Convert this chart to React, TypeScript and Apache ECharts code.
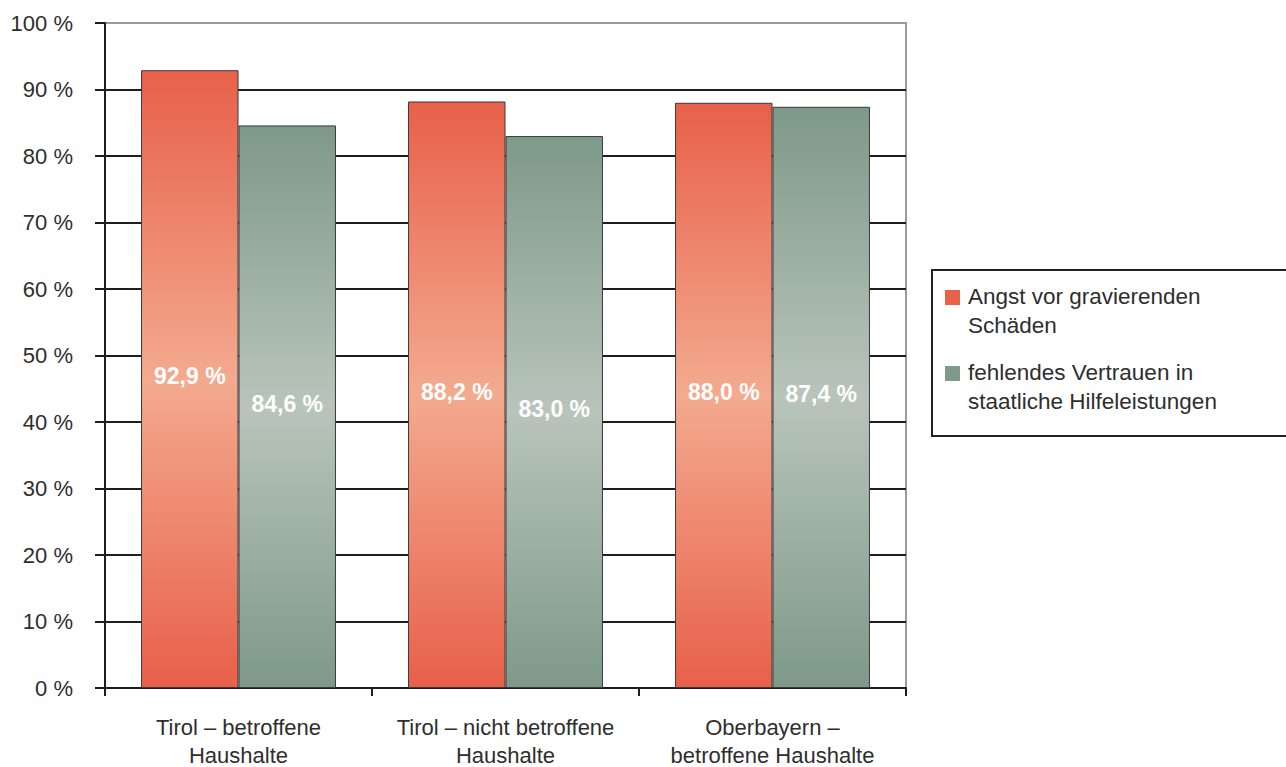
import React, { useEffect, useRef } from "react";
import * as echarts from "echarts";

const categories = [
  "Tirol – betroffene\nHaushalte",
  "Tirol – nicht betroffene\nHaushalte",
  "Oberbayern –\nbetroffene Haushalte",
];
const seriesNames = [
  "Angst vor gravierenden\nSchäden",
  "fehlendes Vertrauen in\nstaatliche Hilfeleistungen",
];
const angstValues = [92.9, 88.2, 88.0];
const vertrauenValues = [84.6, 83.0, 87.4];
const yTicks = { min: 0, max: 100, interval: 10 };

const FONT = "'Liberation Sans', Arial, sans-serif";
const TEXT = "#2e2e2e";
const RED = "#E8624A";
const GREEN = "#7F9A8B";

const vGrad = (edge: string, mid: string) =>
  new echarts.graphic.LinearGradient(0, 0, 0, 1, [
    { offset: 0, color: edge },
    { offset: 0.5, color: mid },
    { offset: 1, color: edge },
  ]);

const fmtPct = (v: number) => v.toFixed(1).replace(".", ",") + " %";

export default function App() {
  const ref = useRef<HTMLDivElement>(null);

  useEffect(() => {
    if (!ref.current) return;
    const chart = echarts.init(ref.current, undefined, { renderer: "svg" });

    const barLabel = {
      show: true,
      position: "inside",
      color: "#ffffff",
      fontWeight: "bold",
      fontSize: 23,
      fontFamily: FONT,
      offset: [0, -3],
      formatter: (p: any) => fmtPct(p.value),
    };

    const legendColors = [RED, GREEN];
    const legendTop = [290, 366];

    chart.setOption({
      animation: false,
      textStyle: { fontFamily: FONT },
      grid: {
        left: 105,
        right: 380,
        top: 23,
        bottom: 79,
        outerBoundsMode: "none",
        containLabel: false,
        show: true,
        borderColor: "#9a9a9a",
        borderWidth: 2,
        backgroundColor: "transparent",
      },
      xAxis: {
        type: "category",
        data: categories,
        axisLine: { lineStyle: { color: "#1e1e1e", width: 2 } },
        axisTick: {
          show: true,
          interval: 0,
          length: 8,
          lineStyle: { color: "#1e1e1e", width: 2 },
        },
        axisLabel: {
          interval: 0,
          hideOverlap: false,
          fontSize: 22,
          lineHeight: 28,
          color: TEXT,
          margin: 25,
          fontFamily: FONT,
        },
      },
      yAxis: {
        type: "value",
        min: yTicks.min,
        max: yTicks.max,
        interval: yTicks.interval,
        axisLine: { show: true, lineStyle: { color: "#1e1e1e", width: 2 } },
        axisTick: { show: true, length: 10, lineStyle: { color: "#1e1e1e", width: 2 } },
        axisLabel: {
          fontSize: 22,
          color: TEXT,
          margin: 32,
          fontFamily: FONT,
          formatter: (v: number) => v + " %",
        },
        splitLine: {
          show: true,
          showMaxLine: false,
          lineStyle: { color: "#1e1e1e", width: 2 },
        },
      },
      series: [
        {
          name: seriesNames[0],
          type: "bar",
          data: angstValues,
          barGap: "0%",
          barCategoryGap: "27%",
          itemStyle: {
            color: vGrad("#E8604A", "#F3AA8F"),
            borderColor: "#3a3a3a",
            borderWidth: 1,
          },
          label: barLabel,
        },
        {
          name: seriesNames[1],
          type: "bar",
          data: vertrauenValues,
          barGap: "0%",
          barCategoryGap: "27%",
          itemStyle: {
            color: vGrad("#7E998A", "#B9C4BB"),
            borderColor: "#3a3a3a",
            borderWidth: 1,
          },
          label: barLabel,
        },
      ],
      graphic: [
        {
          type: "rect",
          shape: { x: 932, y: 270, width: 360, height: 166 },
          style: { fill: "#ffffff", stroke: "#222222", lineWidth: 2 },
        },
        ...seriesNames.flatMap((name, i) => [
          {
            type: "rect",
            shape: { x: 945, y: legendTop[i], width: 15, height: 15 },
            style: { fill: legendColors[i] },
          },
          {
            type: "text",
            x: 968,
            y: legendTop[i] - 8,
            style: {
              text: name,
              fontSize: 22.5,
              lineHeight: 29,
              fill: TEXT,
              fontFamily: FONT,
            },
          },
        ]),
      ],
    });

    return () => chart.dispose();
  }, []);

  return (
    <div
      ref={ref}
      style={{ position: "fixed", left: 0, top: 0, width: 1286, height: 767, background: "#fff" }}
    />
  );
}
